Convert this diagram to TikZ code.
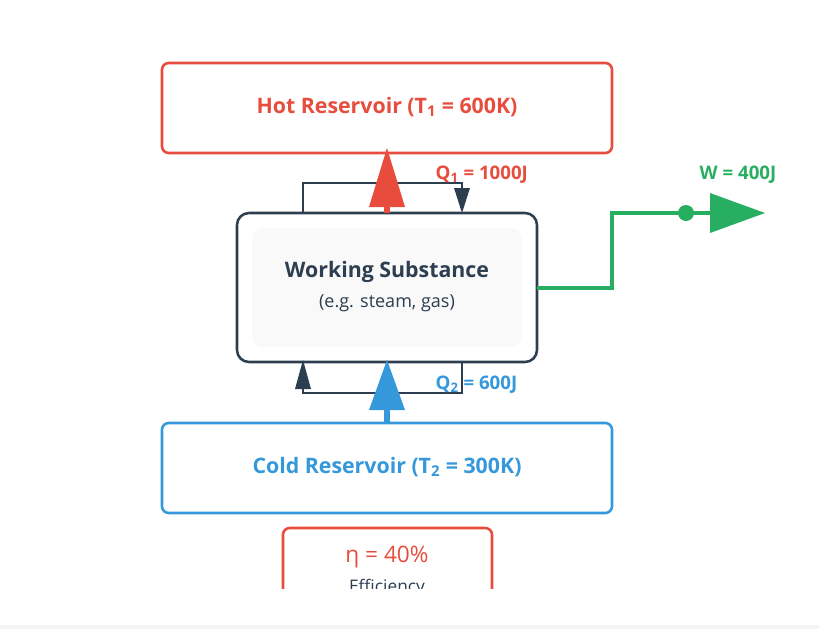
\documentclass[tikz,border=0pt]{standalone}
\usepackage{fontspec}
\setmainfont{Open Sans}
\begin{document}
\begin{tikzpicture}[x=0.75pt,y=-0.75pt,
  box/.style={draw,line width=1.9pt,rounded corners=5pt},
  lbl/.style={font=\fontsize{16}{19}\selectfont\bfseries},
  conn/.style={line width=2pt,draw=dark}]
\definecolor{red}{HTML}{E74C3C}\definecolor{blue}{HTML}{3498DB}
\definecolor{dark}{HTML}{2C3E50}\definecolor{green}{HTML}{27AE60}
\useasboundingbox (0,0) rectangle (819,629);
\fill[gray!8] (0,625) rectangle (819,629);
\begin{scope}
\clip (0,0) rectangle (819,588);
% boxes
\draw[box,red] (162,63) rectangle (612,153);
\node[lbl,text=red] (hot) at (387,107) {Hot Reservoir (T\textsubscript{1} = 600K)};
\draw[box,blue] (162,423) rectangle (612,513);
\node[lbl,text=blue] (cold) at (387,467) {Cold Reservoir (T\textsubscript{2} = 300K)};
\draw[box,dark,rounded corners=9pt] (237,213) rectangle (537,362);
\fill[gray!5,rounded corners=8pt] (252,228) rectangle (522,347);
\node[lbl,text=dark] (ws) at (387,272) {Working Substance};
\node[text=dark,font=\fontsize{13.5}{16}\selectfont] (ws2) at (387,303) {(e.g. steam, gas)};
\draw[box,red] (283,528) rectangle (492,640);
\node[text=red,font=\fontsize{17}{20}\selectfont] (eta) at (387,557) {η = 40\%};
\node[text=dark,font=\fontsize{13}{16}\selectfont] (eff) at (387,588) {Efficiency};
% loops
\coordinate (a1) at (303,213); \coordinate (a2) at (462,213);
\draw[conn] (a1) -- (303,183) -- (462,183) -- (462,198);
\fill[dark] (454,188) -- (470,188) -- (a2) -- cycle;
\coordinate (b1) at (462,362); \coordinate (b2) at (303,360);
\draw[conn] (b1) -- (462,393) -- (303,393) -- (303,380);
\fill[dark] (295,389) -- (311,389) -- (b2) -- cycle;
% red arrow
\coordinate (r0) at (387,213); \coordinate (r1) at (387,148);
\draw[red,line width=4pt] (r0) -- (387,200);
\fill[red] (369,207) -- (405,207) -- (r1) -- cycle;
% blue arrow
\coordinate (c0) at (387,423); \coordinate (c1) at (387,360);
\draw[blue,line width=4pt] (c0) -- (387,405);
\fill[blue] (369,410) -- (405,410) -- (c1) -- cycle;
% labels
\node[lbl,text=red,font=\fontsize{14}{17}\selectfont\bfseries,anchor=west] (q1) at (431,175) {Q\textsubscript{1} = 1000J};
\node[lbl,text=blue,font=\fontsize{14}{17}\selectfont\bfseries,anchor=west] (q2) at (431,385) {Q\textsubscript{2} = 600J};
\node[text=green,font=\fontsize{14}{17}\selectfont\bfseries] (w) at (738,175) {W = 400J};
% green
\coordinate (g0) at (537,288); \coordinate (g1) at (765,213);
\draw[green,line width=3pt] (g0) -- (612,288) -- (612,213) -- (712,213);
\fill[green] (686,213) circle (8);
\fill[green] (710,193) -- (710,233) -- (g1) -- cycle;
\end{scope}
\end{tikzpicture}
\end{document}
